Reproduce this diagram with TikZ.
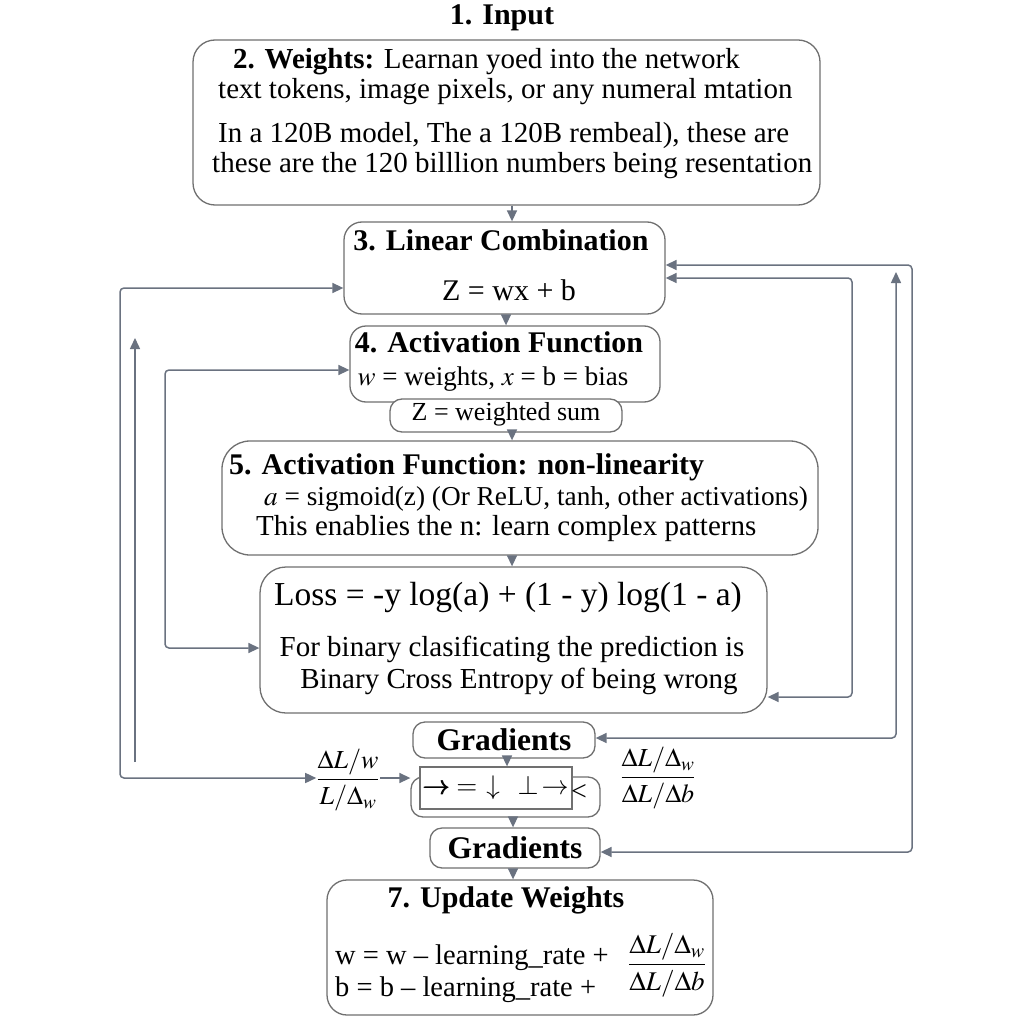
\documentclass[tikz,border=0pt]{standalone}
\usepackage{amsmath}
\usepackage{mathptmx}
\usepackage{fontspec}
\setmainfont{Liberation Serif}
\usepackage{xcolor}
\usetikzlibrary{arrows.meta, positioning}
\definecolor{edgegray}{HTML}{707070}
\definecolor{arrowgray}{HTML}{6A7280}

\begin{document}
\begin{tikzpicture}[x=1pt, y=-1pt]
  \tikzset{
    box/.style={rectangle, rounded corners=#1, draw=edgegray, line width=1.3pt,
                fill=white, inner sep=0pt},
    box/.default=18pt,
    txt/.style={inner sep=0pt, font=\fontsize{29}{32}\selectfont},
    hd/.style={inner sep=0pt, font=\bfseries\fontsize{30}{34}\selectfont},
    arr/.style={-{Triangle[length=11pt, width=10pt]}, draw=arrowgray, line width=1.5pt},
    dbl/.style={{Triangle[length=11pt, width=10pt]}-{Triangle[length=11pt, width=10pt]},
                draw=arrowgray, line width=1.5pt, rounded corners=4pt}
  }
  \fill[white] (0,0) rectangle (1024,1024);
  \useasboundingbox (0,0) rectangle (1024,1024);

  \node[hd] (inp) at (502,18) {1. Input};

  \node[box=22pt, minimum width=627pt, minimum height=165pt] (wts) at (506.5,122.5) {};
  \node[txt, anchor=west] (wts1) at (233,62) {\textbf{2. Weights:} Learnan yoed into the network};
  \node[txt, anchor=west] (wts2) at (218,92) {text tokens, image pixels, or any numeral mtation};
  \node[txt, anchor=west] (wts3) at (218,136) {In a 120B model, The a 120B rembeal), these are};
  \node[txt, anchor=west] (wts4) at (212,166) {these are the 120 billlion numbers being resentation};

  \node[box, minimum width=321pt, minimum height=92pt] (lin) at (504.5,268) {};
  \node[hd] (linh) at (501,240) {3. Linear Combination};
  \node[txt, font=\fontsize{30}{34}\selectfont] (linz) at (509,290) {Z = wx + b};

  \node[box=16pt, minimum width=310pt, minimum height=76pt] (act) at (505,364) {};
  \node[hd] (acth) at (499,342) {4. Activation Function};
  \node[txt, font=\fontsize{27}{30}\selectfont] (actw) at (493,379) {$w$ = weights, $x$ = b = bias};

  \node[box=12pt, minimum width=232pt, minimum height=33pt] (wsum) at (506,415.5) {};
  \node[txt, font=\fontsize{26}{30}\selectfont] (wsumt) at (506,414) {Z = weighted sum};

  \node[box=28pt, minimum width=596pt, minimum height=114pt] (nonlin) at (520,498) {};
  \node[hd, anchor=west] (nonlinh) at (229,467) {5. Activation Function: non-linearity};
  \node[txt, font=\fontsize{27.3}{32}\selectfont, anchor=west] (nonlin1) at (264,499) {$a$ = sigmoid(z) (Or ReLU, tanh, other activations)};
  \node[txt, font=\fontsize{29}{32}\selectfont, anchor=west] (nonlin2) at (256,529) {This enablies the n: learn complex patterns};

  \node[box=26pt, minimum width=507pt, minimum height=146pt] (loss) at (513.5,640) {};
  \node[txt, font=\fontsize{33.5}{38}\selectfont] (lossf) at (508,597) {Loss = -y log(a) + (1 - y) log(1 - a)};
  \node[txt] (loss1) at (512,649) {For binary clasificating the prediction is};
  \node[txt] (loss2) at (519,681) {Binary Cross Entropy of being wrong};

  \node[box=12pt, hd, font=\bfseries\fontsize{31.5}{34}\selectfont,
        minimum width=182pt, minimum height=36pt] (grad1) at (504,740) {Gradients};

  \node[box=12pt, minimum width=189pt, minimum height=40pt] (mid) at (505.5,797) {};
  \node[rectangle, draw=edgegray, line width=1.3pt, fill=white, inner sep=0pt,
        minimum width=152pt, minimum height=42pt, font=\fontsize{27}{30}\selectfont]
        (inner) at (496,788) {$\pmb{\rightarrow}{=}\,\downarrow\hspace{18pt}\perp\,\rightarrow$};
  \node[txt, font=\fontsize{28}{30}\selectfont] (midlt) at (579,792) {<};

  \node[txt, font=\fontsize{26}{30}\selectfont] (dl) at (348,780) {$\dfrac{\Delta L/w}{L/\Delta_w}$};
  \node[txt, font=\fontsize{26}{30}\selectfont] (dr) at (658,778) {$\dfrac{\Delta L/\Delta_w}{\Delta L/\Delta b}$};

  \node[box=12pt, hd, font=\bfseries\fontsize{31.5}{34}\selectfont,
        minimum width=170pt, minimum height=40pt] (grad2) at (515,848) {Gradients};

  \node[box=20pt, minimum width=386pt, minimum height=135pt] (upd) at (520,947.5) {};
  \node[hd] (updh) at (506,900) {7. Update Weights};
  \node[txt, font=\fontsize{28.5}{32}\selectfont, anchor=west] (updw) at (335,958) {w = w – learning\_rate +};
  \node[txt, font=\fontsize{28.5}{32}\selectfont, anchor=west] (updb) at (335,990) {b = b – learning\_rate +};
  \node[txt, font=\fontsize{27}{30}\selectfont] (updf) at (667,965) {$\dfrac{\Delta L/\Delta_w}{\Delta L/\Delta b}$};

  \coordinate (riseL) at (135,762);
  \coordinate (riseLtop) at (135,338);
  \coordinate (riseR) at (896,272);

  % downward chain
  \foreach \a/\b/\x in {wts/lin/512, lin/act/506, wsum/nonlin/512, nonlin/loss/512,
                        grad1/inner/507, mid/grad2/513, grad2/upd/513}
    \draw[arr] (\x,0 |- \a.south) -- (\x,0 |- \b.north);

  % feedback loops
  \draw[dbl] (lin.west |- 0,288) -- (120,288) -- (120,778) -- (dl.west |- 0,778);
  \draw[arr] (dl.east |- 0,778) -- (mid.west |- 0,778);
  \draw[arr] (riseL) -- (riseLtop);
  \draw[dbl] (act.west |- 0,370) -- (165,370) -- (165,648) -- (loss.west |- 0,648);
  \draw[dbl] (lin.east |- 0,278) -- (852,278) -- (852,697) -- (loss.east |- 0,697);
  \draw[dbl] (lin.east |- 0,265) -- (912,265) -- (912,852) -- (grad2.east |- 0,852);
  \draw[dbl] (riseR) -- (896,738) -- (grad1.east |- 0,738);
\end{tikzpicture}
\end{document}
